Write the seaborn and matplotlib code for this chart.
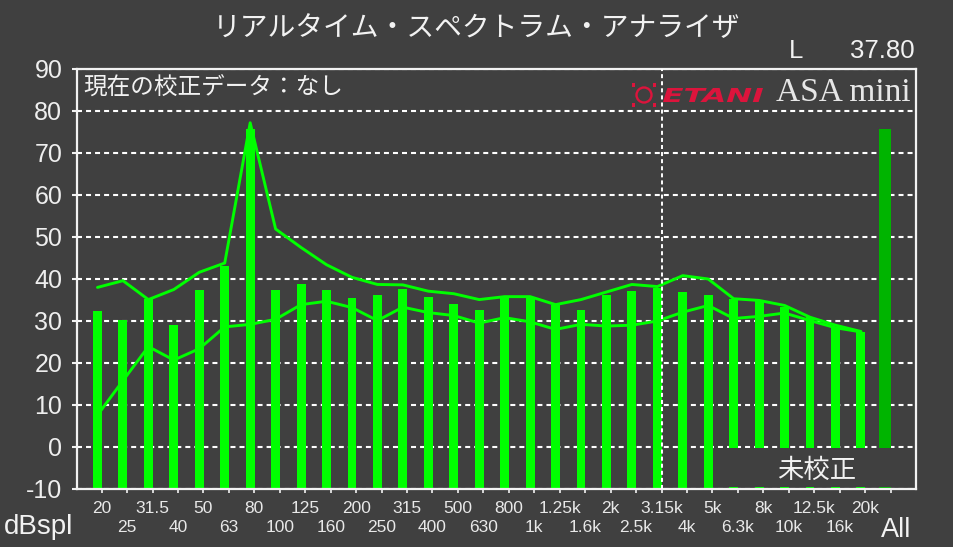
import numpy as np
import pandas as pd
import matplotlib
matplotlib.use("Agg")
import matplotlib.pyplot as plt
import seaborn as sns
from matplotlib.patches import Rectangle, Circle, PathPatch
from matplotlib.textpath import TextPath
from matplotlib.font_manager import FontProperties
from matplotlib.transforms import Affine2D, blended_transform_factory

# ---------------- data ----------------
band_labels = ["20", "25", "31.5", "40", "50", "63", "80", "100", "125", "160",
               "200", "250", "315", "400", "500", "630", "800", "1k", "1.25k", "1.6k",
               "2k", "2.5k", "3.15k", "4k", "5k", "6.3k", "8k", "10k", "12.5k", "16k", "20k"]
band_levels = [32.3, 30.2, 35.2, 29.0, 37.3, 43.2, 75.7, 37.3, 38.8, 37.3,
               35.5, 36.3, 37.7, 35.6, 34.0, 32.7, 35.7, 35.7, 33.9, 32.5,
               36.1, 37.1, 37.9, 36.9, 36.1, 35.3, 34.9, 33.3, 30.9, 28.6, 27.4]
peak_line = [38.0, 39.6, 35.1, 37.5, 41.6, 43.8, 77.2, 51.9, 47.5, 43.4,
             40.4, 38.7, 38.6, 37.1, 36.5, 35.1, 35.8, 35.8, 33.9, 35.1,
             36.9, 38.7, 38.2, 40.8, 40.0, 35.3, 34.9, 33.7, 30.9, 29.0, 27.5]
avg_line = [7.6, 15.8, 23.9, 20.7, 23.4, 28.6, 29.2, 30.4, 33.9, 34.7,
            33.2, 30.1, 33.3, 32.0, 31.3, 29.5, 30.8, 29.8, 28.0, 29.2,
            28.8, 29.0, 30.0, 32.1, 33.7, 30.6, 31.1, 31.9, 30.1, 28.4, 27.4]
all_label = "All"
all_level = 75.7
y_ticks = [-10, 0, 10, 20, 30, 40, 50, 60, 70, 80, 90]
channel = "L"
channel_value = "37.80"

# ---------------- style ----------------
BG = "#404040"
GREEN = "#00ff00"
GREEN_ALL = "#00b400"
WHITE = "#f2f2f2"
W, H = 954, 547

sns.set_theme(style="dark", rc={"axes.facecolor": BG, "figure.facecolor": BG})
plt.rcParams["font.family"] = ["Liberation Sans", "Noto Sans CJK JP", "DejaVu Sans"]
plt.rcParams["lines.scale_dashes"] = False
JP = ["Noto Sans CJK JP", "Liberation Sans", "DejaVu Sans"]

def fx(px):
    return px / W

def fy(py):
    return 1 - py / H

fig = plt.figure(figsize=(W / 100, H / 100), dpi=100, facecolor=BG)
ax = fig.add_axes([fx(77), fy(489), (916 - 77) / W, (489 - 69) / H])
ax.set_facecolor(BG)

n = len(band_labels)
df = pd.DataFrame({
    "pos": np.arange(n + 1),
    "level": band_levels + [all_level],
    "kind": ["band"] * n + ["all"],
})

sns.barplot(data=df, x="pos", y="level", hue="kind",
            palette={"band": GREEN, "all": GREEN_ALL},
            native_scale=True, orient="x", width=0.35, dodge=False,
            saturation=1, legend=False, errorbar=None, linewidth=0,
            zorder=2, ax=ax)

TICK_OFF = 0.165
for p in ax.patches:
    cx = p.get_x() + p.get_width() / 2
    top = p.get_height()
    p.set_y(-10)
    p.set_height(top + 10)
    if cx > n - 0.5:
        w = 0.47
        p.set_x(cx + TICK_OFF - w)
        p.set_width(w)

line_x = np.arange(n)
sns.lineplot(x=line_x, y=peak_line, color=GREEN, lw=2.1, sort=False,
             errorbar=None, legend=False, zorder=3, ax=ax)
sns.lineplot(x=line_x, y=avg_line, color=GREEN, lw=2.1, sort=False,
             errorbar=None, legend=False, zorder=3, ax=ax)

ax.set_xlim(-0.805, 32.165)
ax.set_ylim(-10, 90)
ax.set_xlabel("")
ax.set_ylabel("")

# grid & reference line
ax.set_axisbelow(True)
ax.grid(axis="y", color="white", lw=1.5, linestyle=(0, (3.6, 2.9)))
ax.grid(axis="x", which="both", visible=False)
ax.axvline(22 + TICK_OFF, color="white", lw=1.4, linestyle=(0, (2.9, 2.2)), zorder=3)

# x ticks: two rows (even -> upper row as major, odd + All -> lower row as minor)
idx = np.arange(n)
even = idx[idx % 2 == 0]
odd = idx[idx % 2 == 1]
ax.set_xticks(even + TICK_OFF)
ax.set_xticklabels([band_labels[i] for i in even])
minor_pos = list(odd + TICK_OFF) + [n + TICK_OFF]
ax.set_xticks(minor_pos, minor=True)
ax.set_xticklabels([band_labels[i] for i in odd] + [""], minor=True)
ax.tick_params(axis="x", which="major", length=3, width=1.2, color=WHITE, pad=5.5,
               labelsize=12.5, labelcolor="#e8e8e8", bottom=True)
ax.tick_params(axis="x", which="minor", length=3, width=1.2, color=WHITE, pad=19.5,
               labelsize=12.5, labelcolor="#e8e8e8", bottom=True)
ax.set_yticks(y_ticks)
ax.set_yticklabels([str(v) for v in y_ticks])
ax.tick_params(axis="y", length=3.6, width=1.5, color=WHITE, pad=7,
               labelsize=18, labelcolor="#eeeeee", left=True)

for s in ax.spines.values():
    s.set_color(WHITE)
    s.set_linewidth(1.6)
    s.set_visible(True)

# "uncalibrated" box
ax.add_patch(Rectangle((24.3, -9.55), 32.1 - 24.3, 9.25, facecolor=BG,
                       edgecolor="none", zorder=4))
ax.text((817 - 77) / 839, (489 - 470) / 420, "未校正", transform=ax.transAxes,
        ha="center", va="center", fontsize=19, color=WHITE, family=JP, zorder=5)

ax.text((83 - 77) / 839, (489 - 88) / 420, "現在の校正データ：なし",
        transform=ax.transAxes, ha="left", va="center", fontsize=17,
        color=WHITE, family=JP, zorder=5)

# texts around the figure
fig.text(0.5, fy(28), "リアルタイム・スペクトラム・アナライザ", ha="center",
         va="center", fontsize=20, color=WHITE, family=JP)
fig.text(fx(796), fy(51), channel, ha="center", va="center", fontsize=18.5, color=WHITE)
fig.text(fx(915), fy(51), channel_value, ha="right", va="center", fontsize=18.5, color=WHITE)
fig.text(fx(4), fy(527), "dBspl", ha="left", va="center", fontsize=20, color=WHITE)
bt = blended_transform_factory(ax.transData, fig.transFigure)
ax.text(n + 0.38, fy(530), all_label, transform=bt, ha="center", va="center",
        fontsize=19.5, color=WHITE, clip_on=False)

# logo
RED = "#dc143c"
fp = FontProperties(family="DejaVu Sans", weight="bold", style="italic")
tp = TextPath((0, 0), "ETANI", size=1, prop=fp)
ext = tp.get_extents()
sx = (763 - 663) / ext.width
sy = (102 - 88) / ext.height
tr = Affine2D().translate(-ext.x0, -ext.y0).scale(sx, sy).translate(663, H - 102)
fig.add_artist(PathPatch(tp, transform=tr, facecolor=RED, edgecolor="none"))
fig.add_artist(Circle((644, H - 95), 7.5, transform=Affine2D(), fill=False,
                      edgecolor=RED, lw=1.7))
for (cx, cy) in [(633.5, 85), (654.5, 85), (633.5, 105), (654.5, 105)]:
    fig.add_artist(Rectangle((cx - 1.8, H - cy - 1.8), 3.6, 3.6, transform=Affine2D(),
                             facecolor=RED, edgecolor="none"))
fig.text(fx(911), fy(101), "ASA mini", ha="right", va="baseline",
         family="Liberation Serif", fontsize=24, color="#e6e6e6")

fig.savefig("out.png", dpi=100, facecolor=BG)
